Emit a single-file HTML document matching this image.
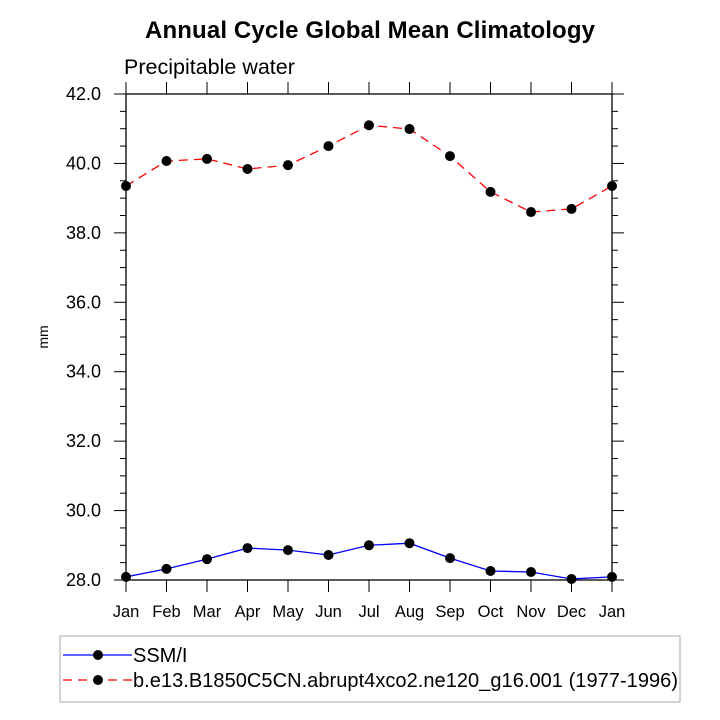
<!DOCTYPE html>
<html><head><meta charset="utf-8"><style>
body{margin:0;background:#fff;}
svg{display:block;font-family:"Liberation Sans",Arial,sans-serif;}
</style></head><body>
<svg id="chart" width="720" height="720">
<text x="370" y="38" text-anchor="middle" font-size="24" font-weight="bold" textLength="450">Annual Cycle Global Mean Climatology</text>
<text x="124" y="74" font-size="21.5">Precipitable water</text>
<text x="48" y="337" font-size="14" text-anchor="middle" transform="rotate(-90 48 337)">mm</text>
<g id="axes"></g>
<g id="series"></g>
<rect x="60" y="636" width="620" height="66" fill="none" stroke="#aaa" stroke-width="1"/>
<g>
<line x1="63" y1="655" x2="132" y2="655" stroke="#0000ff" stroke-width="1.3"/>
<circle cx="98" cy="655" r="5" fill="#000"/>
<text x="133" y="662" font-size="20">SSM/I</text>
</g>
<g>
<line x1="63" y1="680" x2="132" y2="680" stroke="#ff0000" stroke-width="1.3" stroke-dasharray="9,6"/>
<circle cx="98" cy="680" r="5" fill="#000"/>
<text x="133" y="687" font-size="20" textLength="545">b.e13.B1850C5CN.abrupt4xco2.ne120_g16.001 (1977-1996)</text>
</g>
</svg>
<script>
const months=["Jan","Feb","Mar","Apr","May","Jun","Jul","Aug","Sep","Oct","Nov","Dec","Jan"];
const ssmi=[28.09,28.32,28.6,28.92,28.86,28.72,29.0,29.06,28.63,28.26,28.23,28.03,28.09];
const model=[39.35,40.07,40.13,39.84,39.95,40.5,41.1,40.99,40.21,39.18,38.6,38.69,39.35];
const yTicks=[28,30,32,34,36,38,40,42];
const X0=126,X1=612,Y0=580,Y1=94,YMIN=28,YMAX=42;
const xs=i=>X0+(X1-X0)*i/(months.length-1);
const ys=v=>Y0-(v-YMIN)/(YMAX-YMIN)*(Y0-Y1);
const NS="http://www.w3.org/2000/svg";
function mk(tag,attrs,parent){const e=document.createElementNS(NS,tag);for(const k in attrs)e.setAttribute(k,attrs[k]);parent.appendChild(e);return e;}
const ax=document.getElementById('axes');
const frame=mk('rect',{x:X0,y:Y1,width:X1-X0,height:Y0-Y1,fill:'none',stroke:'#000','stroke-width':1.3},ax);


for(let v=YMIN;v<=YMAX+1e-9;v+=0.5){
  const y=ys(v);const major=Math.abs(v-Math.round(v/2)*2)<1e-9;const L=major?12:6;
  mk('line',{x1:X0-L,y1:y,x2:X0,y2:y,stroke:'#000','stroke-width':1},ax);
  mk('line',{x1:X1,y1:y,x2:X1+L,y2:y,stroke:'#000','stroke-width':1},ax);
}
yTicks.forEach(v=>{
  const t=mk('text',{x:X0-25,y:ys(v)+6,'text-anchor':'end','font-size':18},ax);
  t.textContent=v.toFixed(1);
  
  
});
months.forEach((m,i)=>{
  const x=xs(i);
  mk('line',{x1:x,y1:Y0,x2:x,y2:Y0+12,stroke:'#000','stroke-width':1},ax);
  mk('line',{x1:x,y1:Y1-12,x2:x,y2:Y1,stroke:'#000','stroke-width':1},ax);
  const t=mk('text',{x:x,y:617,'text-anchor':'middle','font-size':16.5},ax);
  t.textContent=m;
  
  
});
const sg=document.getElementById('series');
function draw(vals,color,dash,name){
  const p=mk('polyline',{points:vals.map((v,i)=>xs(i)+','+ys(v)).join(' '),fill:'none',stroke:color,'stroke-width':1.3,'stroke-dasharray':dash},sg);
  
  
  vals.forEach((v,i)=>{
    const c=mk('circle',{cx:xs(i),cy:ys(v),r:5,fill:'#000'},sg);
    
    
  });
}
draw(model,'#ff0000','9,6','model');
draw(ssmi,'#0000ff','none','ssmi');
</script>
</body></html>
